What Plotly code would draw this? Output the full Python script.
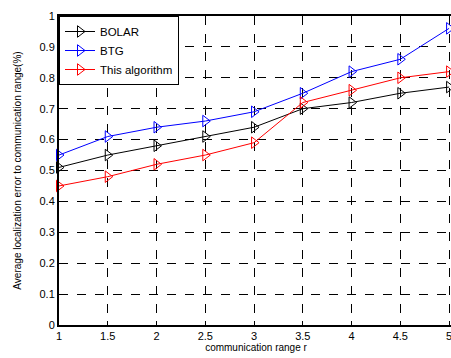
import plotly.graph_objects as go

r_values = [1, 1.5, 2, 2.5, 3, 3.5, 4, 4.5, 5]
bolar = [0.51, 0.55, 0.58, 0.61, 0.64, 0.70, 0.72, 0.75, 0.77]
btg = [0.55, 0.61, 0.64, 0.66, 0.69, 0.75, 0.82, 0.86, 0.96]
this_alg = [0.45, 0.48, 0.52, 0.55, 0.59, 0.72, 0.76, 0.80, 0.82]
x_ticks = [1, 1.5, 2, 2.5, 3, 3.5, 4, 4.5, 5]
x_tick_labels = ["1", "1.5", "2", "2.5", "3", "3.5", "4", "4.5", "5"]
y_ticks = [0, 0.1, 0.2, 0.3, 0.4, 0.5, 0.6, 0.7, 0.8, 0.9, 1]
y_tick_labels = ["0", "0.1", "0.2", "0.3", "0.4", "0.5", "0.6", "0.7", "0.8", "0.9", "1"]

fig = go.Figure()
for name, vals, col in [("BOLAR", bolar, "black"), ("BTG", btg, "blue"), ("This algorithm", this_alg, "red")]:
    fig.add_trace(go.Scatter(
        x=r_values, y=vals, name=name, mode="lines+markers",
        line=dict(color=col, width=1),
        marker=dict(symbol="triangle-right-open", size=10, color=col, line=dict(width=1, color=col)),
        cliponaxis=False,
    ))

font = "Liberation Sans, Arial, sans-serif"
fig.update_layout(
    width=455, height=358,
    margin=dict(l=59, r=0, t=16, b=33),
    paper_bgcolor="white", plot_bgcolor="white",
    font=dict(family=font, size=11, color="black"),
    showlegend=True,
    legend=dict(x=0, y=1, xanchor="left", yanchor="top",
                bordercolor="black", borderwidth=1, bgcolor="white",
                font=dict(size=11.5), tracegroupgap=0, itemwidth=30),
    xaxis=dict(range=[1, 5.04], tickvals=x_ticks, ticktext=x_tick_labels,
               showgrid=True, gridcolor="black", griddash="dash", gridwidth=1,
               showline=True, linecolor="black", linewidth=2, mirror=True,
               ticks="inside", ticklen=4, tickcolor="black", zeroline=False,
               ticklabeloverflow="allow",
               title=dict(text="communication range r", font=dict(size=10), standoff=3),
               tickfont=dict(size=11)),
    yaxis=dict(range=[0, 1], tickvals=y_ticks, ticktext=y_tick_labels,
               showgrid=True, gridcolor="black", griddash="dash", gridwidth=1,
               showline=True, linecolor="black", linewidth=2, mirror=True,
               ticks="inside", ticklen=4, tickcolor="black", zeroline=False,
               title=dict(text="Average localization error to communication range(%)", font=dict(size=10), standoff=16),
               tickfont=dict(size=11)),
)
fig.write_html("out.html", config={"displayModeBar": False},
               post_script="document.body.style.margin='0';document.body.style.overflow='hidden';")
